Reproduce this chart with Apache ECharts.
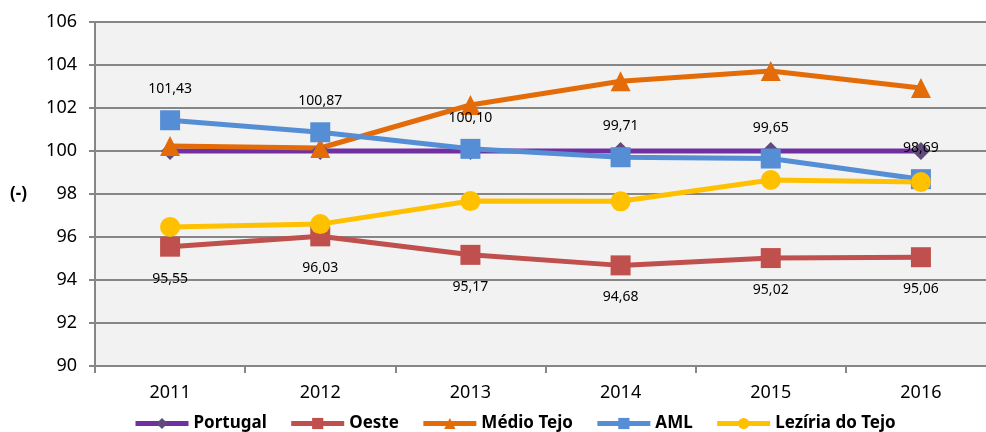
<!DOCTYPE html>
<html>
<head>
<meta charset="utf-8">
<script src="https://cdn.jsdelivr.net/npm/echarts@6/dist/echarts.min.js"></script>
<style>
  html, body { margin: 0; padding: 0; background: #fff; }
  #chart-container { width: 986px; height: 432px; }
</style>
</head>
<body>
<div id="chart-container"></div>
<script>
var years = ['2011', '2012', '2013', '2014', '2015', '2016'];
var portugal = [100, 100, 100, 100, 100, 100];
var oeste = [95.55, 96.03, 95.17, 94.68, 95.02, 95.06];
var medioTejo = [100.23, 100.14, 102.14, 103.24, 103.72, 102.93];
var aml = [101.43, 100.87, 100.10, 99.71, 99.65, 98.69];
var leziria = [96.47, 96.6, 97.67, 97.66, 98.65, 98.56];

var dom = document.getElementById('chart-container');
var myChart = echarts.init(dom, null, { renderer: 'canvas' });

var font = 'Noto Sans';
function comma(p) {
    return p.value.toFixed(2).replace('.', ',');
}

var option = {
    animation: false,
    textStyle: { fontFamily: font },
    grid: {
        left: 95,
        top: 22,
        width: 901,
        height: 344,
        outerBoundsMode: 'none',
        show: true,
        backgroundColor: '#F2F2F2',
        borderWidth: 0
    },
    legend: {
        left: 128,
        top: 410,
        itemWidth: 53,
        itemHeight: 14,
        itemGap: 22,
        lineStyle: { width: 5 },
        textStyle: { fontSize: 17, fontWeight: 'bold', color: '#000', fontFamily: font },
        data: ['Portugal', 'Oeste', 'Médio Tejo', 'AML', 'Lezíria do Tejo']
    },
    xAxis: {
        type: 'category',
        data: years,
        boundaryGap: true,
        axisLine: { lineStyle: { color: '#868686', width: 2 } },
        axisTick: { show: true, length: 7, lineStyle: { color: '#868686', width: 2 } },
        axisLabel: { fontSize: 18, color: '#000', margin: 18 }
    },
    yAxis: {
        type: 'value',
        min: 90,
        max: 106,
        interval: 2,
        name: '(-)',
        nameLocation: 'middle',
        nameGap: 68,
        nameRotate: 0,
        nameTextStyle: { fontSize: 17, fontWeight: 'bold', color: '#000' },
        axisLine: { show: true, lineStyle: { color: '#868686', width: 2 } },
        axisTick: { show: true, length: 6, lineStyle: { color: '#868686', width: 2 } },
        axisLabel: { fontSize: 18, color: '#000', margin: 18 },
        splitLine: { lineStyle: { color: '#868686', width: 2 } }
    },
    series: [
        {
            name: 'Portugal',
            type: 'line',
            data: portugal,
            symbol: 'diamond',
            symbolSize: 18,
            itemStyle: { color: '#604A7B' },
            lineStyle: { color: '#7030A0', width: 5 }
        },
        {
            name: 'Oeste',
            type: 'line',
            data: oeste,
            symbol: 'rect',
            symbolSize: 20,
            itemStyle: { color: '#C0504D' },
            lineStyle: { color: '#C0504D', width: 5 },
            label: {
                show: true,
                position: 'bottom',
                distance: 15,
                fontSize: 14,
                color: '#000',
                formatter: comma
            }
        },
        {
            name: 'Médio Tejo',
            type: 'line',
            data: medioTejo,
            symbol: 'triangle',
            symbolSize: 20,
            itemStyle: { color: '#E36C09' },
            lineStyle: { color: '#E36C09', width: 5 }
        },
        {
            name: 'AML',
            type: 'line',
            data: aml,
            symbol: 'rect',
            symbolSize: 20,
            itemStyle: { color: '#558ED5' },
            lineStyle: { color: '#558ED5', width: 5 },
            label: {
                show: true,
                position: 'top',
                distance: 14,
                fontSize: 14,
                color: '#000',
                formatter: comma
            }
        },
        {
            name: 'Lezíria do Tejo',
            type: 'line',
            data: leziria,
            symbol: 'circle',
            symbolSize: 20,
            itemStyle: { color: '#FFC000' },
            lineStyle: { color: '#FFC000', width: 5 }
        }
    ]
};

myChart.setOption(option);
window.addEventListener('resize', myChart.resize);
</script>
</body>
</html>
